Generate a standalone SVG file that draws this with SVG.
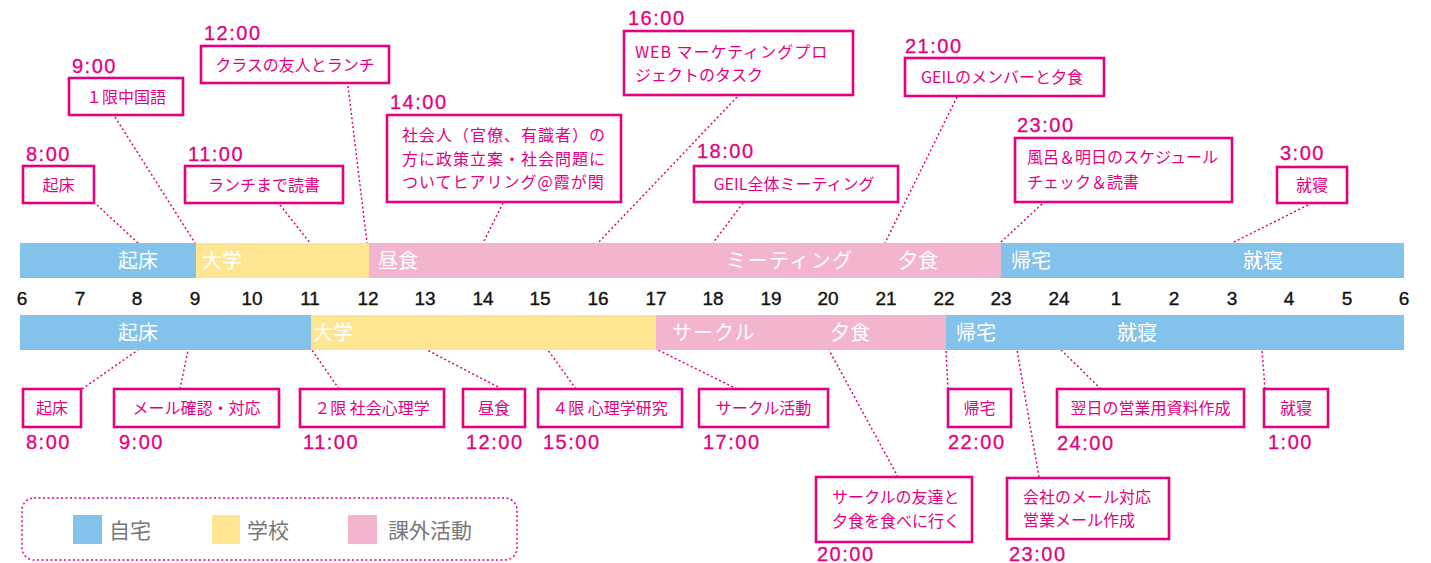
<svg xmlns="http://www.w3.org/2000/svg" width="1431" height="563" viewBox="0 0 1431 563">
<style>
.home{fill:#83C2EA}
.school{fill:#FEE592}
.extra{fill:#F3B4CF}
.barT{font-family:"Noto Sans CJK JP","Noto Sans",sans-serif;font-size:20px;fill:#fff}
.axis{font-family:"Liberation Sans",Arial,sans-serif;font-size:19px;fill:#111;stroke:#111;stroke-width:0.35;text-anchor:middle}
.box{fill:#fff;stroke:#E4007F;stroke-width:2.6}
.bt{font-family:"Noto Sans CJK JP","Noto Sans",sans-serif;font-size:16px;fill:#E4007F}
.c{text-anchor:middle}
.tm{font-family:"Liberation Sans",Arial,sans-serif;font-size:20px;fill:#E4007F;stroke:#E4007F;stroke-width:0.3;letter-spacing:1.5px}
.conn line{stroke:#E4007F;stroke-width:1.5;stroke-dasharray:2 2.5}
.leg{font-family:"Noto Sans CJK JP","Noto Sans",sans-serif;font-size:21px;fill:#777}
</style>
<rect width="1431" height="563" fill="#fff"/>

<g id="connectors" class="conn">
<line x1="97" y1="205" x2="138" y2="243"/>
<line x1="115" y1="117" x2="195" y2="243"/>
<line x1="348" y1="86" x2="367" y2="243"/>
<line x1="280" y1="205" x2="310" y2="243"/>
<line x1="503" y1="203" x2="483" y2="243"/>
<line x1="737" y1="97" x2="598" y2="243"/>
<line x1="743" y1="203" x2="713" y2="243"/>
<line x1="957" y1="97" x2="885" y2="243"/>
<line x1="1042" y1="204" x2="1000" y2="243"/>
<line x1="1308" y1="205" x2="1232" y2="243"/>
<line x1="82" y1="389" x2="138" y2="350"/>
<line x1="180" y1="389" x2="188" y2="350"/>
<line x1="339" y1="389" x2="312" y2="350"/>
<line x1="502" y1="389" x2="427" y2="350"/>
<line x1="576" y1="389" x2="548" y2="350"/>
<line x1="737" y1="389" x2="658" y2="350"/>
<line x1="898" y1="477" x2="829" y2="350"/>
<line x1="948" y1="389" x2="946" y2="350"/>
<line x1="1039" y1="477" x2="1017" y2="350"/>
<line x1="1101" y1="389" x2="1061" y2="350"/>
<line x1="1265" y1="389" x2="1262" y2="350"/>
</g>

<g id="bar-top">
<rect class="home" x="20" y="243" width="176" height="35"/>
<rect class="school" x="196" y="243" width="173" height="35"/>
<rect class="extra" x="369" y="243" width="632" height="35"/>
<rect class="home" x="1001" y="243" width="403" height="35"/>
<text class="barT" x="118" y="268">起床</text>
<text class="barT" x="202" y="268">大学</text>
<text class="barT" x="378" y="268">昼食</text>
<text class="barT" x="726" y="268" letter-spacing="1.5">ミーティング</text>
<text class="barT" x="898" y="268">夕食</text>
<text class="barT" x="1011" y="268">帰宅</text>
<text class="barT" x="1243" y="268">就寝</text>
</g>

<g id="bar-bottom">
<rect class="home" x="20" y="315" width="291" height="35"/>
<rect class="school" x="311" y="315" width="345" height="35"/>
<rect class="extra" x="656" y="315" width="290" height="35"/>
<rect class="home" x="946" y="315" width="458" height="35"/>
<text class="barT" x="118" y="340">起床</text>
<text class="barT" x="313" y="340">大学</text>
<text class="barT" x="672" y="340" letter-spacing="1">サークル</text>
<text class="barT" x="830" y="340">夕食</text>
<text class="barT" x="956" y="340">帰宅</text>
<text class="barT" x="1117" y="340">就寝</text>
</g>

<g id="axis">
<text class="axis" x="22" y="305">6</text>
<text class="axis" x="80" y="305">7</text>
<text class="axis" x="137" y="305">8</text>
<text class="axis" x="195" y="305">9</text>
<text class="axis" x="252" y="305">10</text>
<text class="axis" x="310" y="305">11</text>
<text class="axis" x="368" y="305">12</text>
<text class="axis" x="425" y="305">13</text>
<text class="axis" x="483" y="305">14</text>
<text class="axis" x="540" y="305">15</text>
<text class="axis" x="598" y="305">16</text>
<text class="axis" x="656" y="305">17</text>
<text class="axis" x="713" y="305">18</text>
<text class="axis" x="771" y="305">19</text>
<text class="axis" x="828" y="305">20</text>
<text class="axis" x="886" y="305">21</text>
<text class="axis" x="944" y="305">22</text>
<text class="axis" x="1001" y="305">23</text>
<text class="axis" x="1059" y="305">24</text>
<text class="axis" x="1116" y="305">1</text>
<text class="axis" x="1174" y="305">2</text>
<text class="axis" x="1232" y="305">3</text>
<text class="axis" x="1289" y="305">4</text>
<text class="axis" x="1347" y="305">5</text>
<text class="axis" x="1404" y="305">6</text>
</g>

<g id="top-0800">
<text class="tm" x="26" y="161">8:00</text>
<rect class="box" x="23" y="166" width="71" height="37"/>
<text class="bt c" x="58.5" y="190.5">起床</text>
</g>
<g id="top-0900">
<text class="tm" x="72" y="73">9:00</text>
<rect class="box" x="69" y="78" width="114" height="37"/>
<text class="bt c" x="126" y="102.5">１限中国語</text>
</g>
<g id="top-1100">
<text class="tm" x="188" y="161">11:00</text>
<rect class="box" x="185" y="166" width="158" height="37"/>
<text class="bt c" x="264" y="190.5">ランチまで読書</text>
</g>
<g id="top-1200">
<text class="tm" x="204" y="40">12:00</text>
<rect class="box" x="201" y="46" width="188" height="37"/>
<text class="bt c" x="295" y="70.5">クラスの友人とランチ</text>
</g>
<g id="top-1400">
<text class="tm" x="390" y="109">14:00</text>
<rect class="box" x="387" y="115" width="234" height="87"/>
<text class="bt" x="402" y="141" letter-spacing="1">社会人（官僚、有識者）の</text>
<text class="bt" x="402" y="165" letter-spacing="1">方に政策立案・社会問題に</text>
<text class="bt" x="402" y="188" letter-spacing="1">ついてヒアリング@霞が関</text>
</g>
<g id="top-1600">
<text class="tm" x="628" y="25">16:00</text>
<rect class="box" x="624" y="31" width="229" height="64"/>
<text class="bt" x="635" y="57.5" letter-spacing="1">WEB マーケティングプロ</text>
<text class="bt" x="635" y="81">ジェクトのタスク</text>
</g>
<g id="top-1800">
<text class="tm" x="697" y="158">18:00</text>
<rect class="box" x="694" y="166" width="204" height="36"/>
<text class="bt c" x="794" y="190">GEIL全体ミーティング</text>
</g>
<g id="top-2100">
<text class="tm" x="905" y="53">21:00</text>
<rect class="box" x="905" y="58" width="199" height="38"/>
<text class="bt c" x="1002" y="83">GEILのメンバーと夕食</text>
</g>
<g id="top-2300">
<text class="tm" x="1017" y="132">23:00</text>
<rect class="box" x="1015" y="138" width="217" height="64"/>
<text class="bt" x="1027" y="162.5">風呂＆明日のスケジュール</text>
<text class="bt" x="1027" y="187.5">チェック＆読書</text>
</g>
<g id="top-0300">
<text class="tm" x="1280" y="160">3:00</text>
<rect class="box" x="1277" y="167" width="70" height="36"/>
<text class="bt c" x="1312" y="191">就寝</text>
</g>

<g id="bot-0800">
<rect class="box" x="23" y="389" width="58" height="38"/>
<text class="bt c" x="52" y="414">起床</text>
<text class="tm" x="26" y="449">8:00</text>
</g>
<g id="bot-0900">
<rect class="box" x="114" y="389" width="165" height="38"/>
<text class="bt c" x="196.5" y="414">メール確認・対応</text>
<text class="tm" x="119" y="449">9:00</text>
</g>
<g id="bot-1100">
<rect class="box" x="300" y="389" width="144" height="38"/>
<text class="bt c" x="372" y="414">２限 社会心理学</text>
<text class="tm" x="303" y="449">11:00</text>
</g>
<g id="bot-1200">
<rect class="box" x="463" y="389" width="62" height="38"/>
<text class="bt c" x="494" y="414">昼食</text>
<text class="tm" x="466" y="449">12:00</text>
</g>
<g id="bot-1500">
<rect class="box" x="538" y="389" width="144" height="38"/>
<text class="bt c" x="610" y="414">４限 心理学研究</text>
<text class="tm" x="543" y="449">15:00</text>
</g>
<g id="bot-1700">
<rect class="box" x="699" y="389" width="129" height="38"/>
<text class="bt c" x="763.5" y="414">サークル活動</text>
<text class="tm" x="703" y="449">17:00</text>
</g>
<g id="bot-2000">
<rect class="box" x="816" y="477" width="156" height="65"/>
<text class="bt" x="832" y="503">サークルの友達と</text>
<text class="bt" x="832" y="527">夕食を食べに行く</text>
<text class="tm" x="817" y="561">20:00</text>
</g>
<g id="bot-2200">
<rect class="box" x="948" y="389" width="63" height="38"/>
<text class="bt c" x="979.5" y="414">帰宅</text>
<text class="tm" x="948" y="449">22:00</text>
</g>
<g id="bot-2300">
<rect class="box" x="1007" y="478" width="162" height="61"/>
<text class="bt" x="1023" y="503">会社のメール対応</text>
<text class="bt" x="1023" y="526">営業メール作成</text>
<text class="tm" x="1009" y="561">23:00</text>
</g>
<g id="bot-2400">
<rect class="box" x="1057" y="389" width="187" height="38"/>
<text class="bt c" x="1150.5" y="414">翌日の営業用資料作成</text>
<text class="tm" x="1057" y="450">24:00</text>
</g>
<g id="bot-0100">
<rect class="box" x="1264" y="389" width="64" height="38"/>
<text class="bt c" x="1296" y="414">就寝</text>
<text class="tm" x="1268" y="449">1:00</text>
</g>

<g id="legend">
<rect x="22" y="498" width="495" height="62" rx="12" fill="none" stroke="#E4007F" stroke-width="1.5" stroke-dasharray="2 2.5"/>
<rect class="home" x="73" y="515" width="29" height="29"/>
<text class="leg" x="109" y="538">自宅</text>
<rect class="school" x="212" y="515" width="28" height="29"/>
<text class="leg" x="247" y="538">学校</text>
<rect class="extra" x="348" y="515" width="29" height="29"/>
<text class="leg" x="388" y="538">課外活動</text>
</g>
</svg>
